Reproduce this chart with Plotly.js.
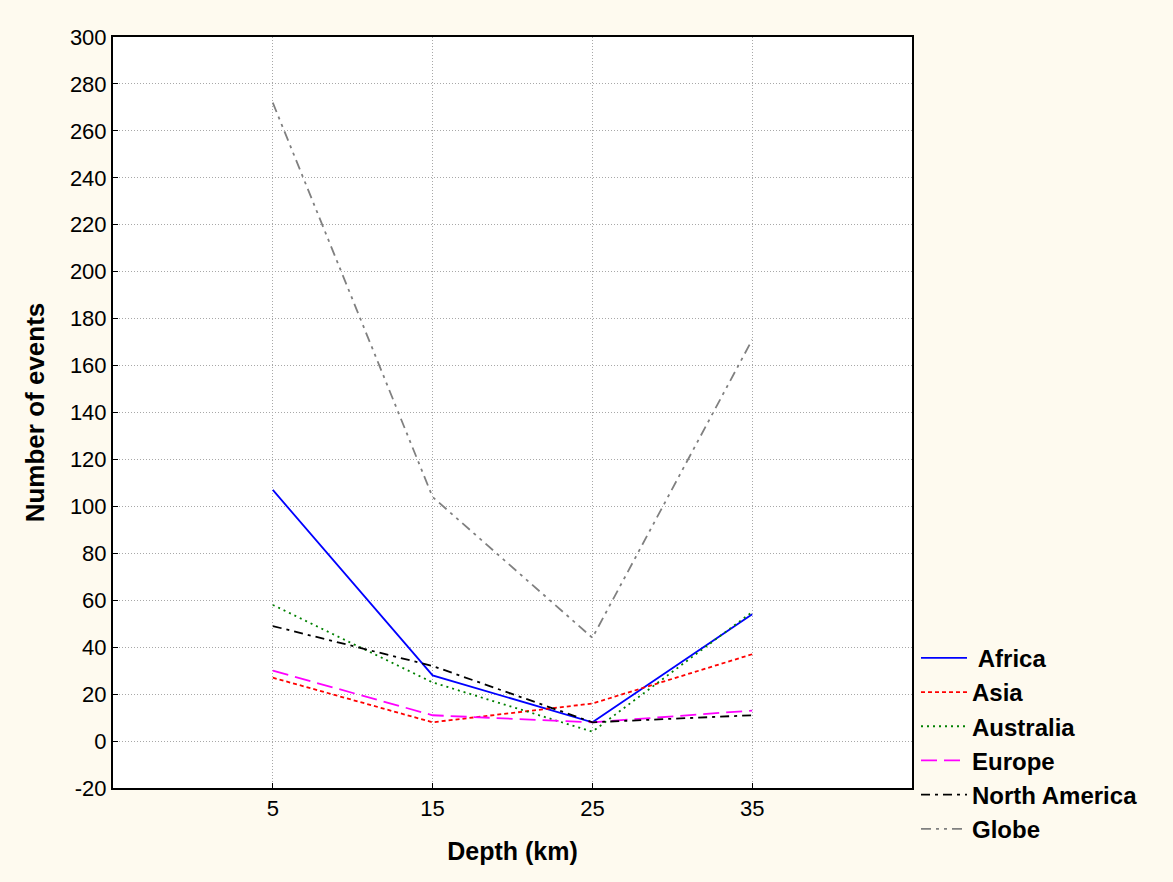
<!DOCTYPE html>
<html>
<head>
<meta charset="utf-8">
<script src="https://cdn.plot.ly/plotly-3.0.1.min.js"></script>
<style>html,body{margin:0;padding:0;background:#fefaef;}</style>
</head>
<body>
<div id="chart" style="width:1173px;height:882px;"></div>
<script>
const depth = [5, 15, 25, 35];
const africa = [107, 28, 8, 54];
const asia = [27, 8, 16, 37];
const australia = [58, 25, 4, 55];
const europe = [30, 11, 8, 13];
const northAmerica = [49, 32, 8, 11];
const globe = [272, 104, 44, 171];
const yTicks = [-20, 0, 20, 40, 60, 80, 100, 120, 140, 160, 180, 200, 220, 240, 260, 280, 300];
const yTickText = yTicks.map(v => String(v));

const traces = [
  {name: ' Africa', y: africa, line: {color: '#0000ff', width: 1.8, dash: 'solid'}},
  {name: 'Asia', y: asia, line: {color: '#ff0000', width: 1.8, dash: '4px,3px'}},
  {name: 'Australia', y: australia, line: {color: '#008000', width: 1.8, dash: '2px,4px'}},
  {name: 'Europe', y: europe, line: {color: '#ff00ff', width: 1.8, dash: '16px,7px'}},
  {name: 'North America', y: northAmerica, line: {color: '#000000', width: 1.8, dash: '9px,5px,3px,5px'}},
  {name: 'Globe', y: globe, line: {color: '#808080', width: 1.8, dash: '10px,5px,3px,5px,3px,5px'}}
].map(t => Object.assign({x: depth, type: 'scatter', mode: 'lines'}, t));

const layout = {
  width: 1173, height: 882,
  paper_bgcolor: '#fefaef',
  plot_bgcolor: '#ffffff',
  margin: {l: 113, r: 261, t: 37, b: 94},
  font: {family: 'Liberation Sans, Arial, sans-serif', color: '#000'},
  showlegend: true,
  legend: {
    x: 1.005, xanchor: 'left', y: 0.2027, yanchor: 'top',
    bgcolor: 'rgba(0,0,0,0)', borderwidth: 0,
    itemwidth: 46,
    font: {size: 24, family: 'Liberation Sans, Arial, sans-serif', weight: 'bold'},
    tracegroupgap: 0
  },
  xaxis: {
    range: [-5, 45], tickvals: depth, ticktext: depth.map(String),
    showgrid: true, gridcolor: '#a8a8a8', griddash: '1px,2px', gridwidth: 1,
    showline: true, linecolor: '#000', linewidth: 2, mirror: true,
    ticks: 'inside', ticklen: 5, tickcolor: '#000', tickwidth: 1,
    zeroline: false,
    tickfont: {size: 22},
    title: {text: '<b>Depth (km)</b>', font: {size: 25}, standoff: 22}
  },
  yaxis: {
    range: [-20, 300], tickvals: yTicks, ticktext: yTickText,
    showgrid: true, gridcolor: '#a8a8a8', griddash: '1px,2px', gridwidth: 1,
    showline: true, linecolor: '#000', linewidth: 2, mirror: true,
    ticks: 'inside', ticklen: 5, tickcolor: '#000', tickwidth: 1,
    zeroline: false,
    tickfont: {size: 22},
    title: {text: '<b>Number of events</b>', font: {size: 26}, standoff: 18}
  }
};

Plotly.newPlot('chart', traces, layout, {displayModeBar: false, staticPlot: true});
</script>
</body>
</html>
